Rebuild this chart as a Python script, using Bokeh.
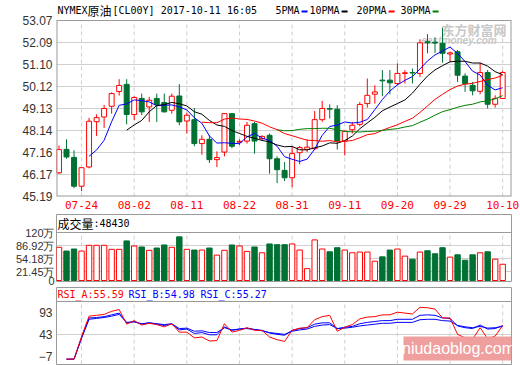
import pandas as pd
from bokeh.plotting import figure
from bokeh.layouts import column
from bokeh.models import (Range1d, FixedTicker, PrintfTickFormatter, Label, Span,
                          BoxAnnotation, ColumnDataSource)
from bokeh.embed import file_html
from bokeh.resources import INLINE
from bokeh.core.properties import value

nan = float("nan")

# ---------------- data ----------------
dates = ["07-19", "07-20", "07-21", "07-24", "07-25", "07-26", "07-27", "07-28", "07-31", "08-01",
         "08-02", "08-03", "08-04", "08-07", "08-08", "08-09", "08-10", "08-11", "08-14", "08-15",
         "08-16", "08-17", "08-18", "08-21", "08-22", "08-23", "08-24", "08-25", "08-28", "08-29",
         "08-30", "08-31", "09-01", "09-04", "09-05", "09-06", "09-07", "09-08", "09-11", "09-12",
         "09-13", "09-14", "09-15", "09-18", "09-19", "09-20", "09-21", "09-22", "09-25", "09-26",
         "09-27", "09-28", "09-29", "10-02", "10-03", "10-04", "10-05", "10-06", "10-09", "10-10"]
open_ = [46.25, 47.30, 46.94, 45.65, 46.51, 48.54, 48.75, 49.23, 49.89, 50.21,
         48.86, 49.58, 49.20, 49.58, 49.40, 49.05, 49.69, 48.57, 48.63, 47.56,
         47.75, 46.84, 47.18, 48.90, 47.62, 47.67, 48.45, 47.78, 47.93, 46.88,
         46.36, 46.03, 47.15, 47.30, 47.33, 48.63, 49.13, 49.10, 47.67, 48.18,
         48.42, 49.35, 49.77, 50.40, 50.40, 50.25, 50.70, 50.74, 50.70, 52.12,
         52.10, 52.05, 51.57, 51.67, 50.58, 50.17, 49.90, 50.74, 49.32, 49.58]
high = [47.47, 47.75, 47.26, 46.50, 48.71, 48.87, 49.29, 49.85, 50.44, 50.44,
        49.68, 49.80, 49.65, 49.80, 49.80, 49.80, 50.22, 48.95, 49.15, 47.93,
        47.93, 47.21, 48.92, 48.93, 47.75, 48.53, 48.53, 47.93, 48.01, 46.99,
        46.73, 47.44, 47.45, 47.74, 49.02, 49.47, 49.32, 49.28, 48.15, 48.53,
        49.42, 50.47, 50.17, 50.85, 50.85, 51.15, 50.85, 50.92, 52.23, 52.46,
        52.32, 52.75, 51.68, 51.75, 50.70, 50.32, 51.18, 50.85, 49.72, 50.82]
low = [46.20, 46.88, 45.56, 45.43, 46.45, 47.90, 48.26, 48.90, 49.71, 48.42,
       48.60, 48.83, 48.53, 48.53, 48.95, 48.90, 48.38, 48.01, 47.44, 47.06,
       46.69, 46.51, 46.99, 47.35, 47.50, 47.56, 47.11, 47.70, 46.21, 45.79,
       45.88, 45.61, 46.63, 47.18, 47.26, 48.53, 48.68, 47.29, 47.03, 48.01,
       48.33, 49.17, 49.35, 49.68, 49.77, 50.17, 50.25, 50.25, 50.55, 51.60,
       51.62, 51.18, 51.22, 50.32, 49.87, 49.72, 49.77, 49.13, 49.17, 49.58]
close = [47.29, 46.96, 45.65, 46.48, 48.56, 48.72, 49.13, 49.80, 50.16, 48.86,
         49.62, 48.98, 49.50, 49.31, 48.98, 49.68, 48.53, 48.83, 47.56, 47.75,
         46.84, 46.93, 48.90, 47.44, 47.66, 48.38, 47.67, 47.88, 46.88, 46.39,
         46.03, 47.11, 47.38, 47.40, 48.63, 49.13, 49.10, 47.67, 48.11, 48.38,
         49.31, 49.72, 49.87, 50.37, 50.28, 50.70, 50.73, 50.72, 52.07, 52.07,
         52.06, 51.60, 51.62, 50.62, 50.25, 49.92, 50.74, 49.32, 49.58, 50.74]
volume = [83.0, 73.6, 78.7, 73.6, 88.0, 88.0, 88.0, 77.9, 77.9, 99.0,
          86.3, 83.8, 75.4, 81.2, 88.8, 83.0, 109.1, 77.9, 76.1, 76.1,
          81.2, 63.5, 75.4, 88.8, 86.3, 72.8, 83.8, 69.3, 91.4, 89.6,
          89.6, 91.4, 76.1, 29.7, 101.5, 78.7, 71.8, 82.0, 76.1, 69.3,
          71.1, 71.1, 48.2, 59.1, 76.1, 78.7, 60.9, 53.3, 71.1, 74.4,
          66.8, 82.0, 58.4, 64.2, 50.8, 64.2, 69.3, 71.8, 53.3, 40.6]
rsi_a = [nan, -13, -13, 38, 84, 86, 88, 95, 99, 66,
         74, 64, 68, 65, 60, 67, 48, 48, 35, 37,
         28, 29, 67, 48, 52, 58, 52, 52, 37, 31,
         27, 52, 57, 58, 76, 83, 86, 50, 59, 65,
         78, 82, 83, 87, 87, 93, 91, 89, 104, 103,
         100, 80, 80, 43, 35, 32, 58, 33, 39, 63]
rsi_b = [nan, -13, -13, 36, 80, 81, 83, 87, 91, 69,
         72, 66, 69, 66, 63, 66, 53, 55, 45, 47,
         42, 42, 60, 52, 55, 57, 54, 52, 46, 43,
         41, 52, 56, 58, 66, 69, 69, 56, 59, 61,
         67, 70, 72, 74, 74, 77, 77, 77, 86, 87,
         86, 80, 79, 62, 58, 56, 64, 55, 56, 63]
rsi_c = [nan, -13, -13, 34, 77, 79, 81, 84, 88, 70,
         71, 67, 69, 67, 65, 67, 56, 57, 50, 51,
         47, 47, 58, 53, 55, 56, 54, 51, 47, 45,
         43, 50, 53, 55, 61, 64, 65, 56, 57, 59,
         62, 64, 66, 68, 68, 70, 70, 70, 76, 77,
         77, 74, 73, 63, 60, 58, 61, 57, 58, 61]

price_ticks = [45.19, 46.17, 47.16, 48.14, 49.13, 50.12, 51.10, 52.09, 53.07]
vol_ticks = [0, 21.45, 54.18, 86.92, 120]
vol_tick_labels = ["0", "21.45万", "54.18万", "86.92万", "120万"]
rsi_ticks = [-7, 43, 93]
ma_periods = [5, 10, 20, 30]
ma_names = ["5PMA", "10PMA", "20PMA", "30PMA"]
ma_colors = ["#0000ff", "#000000", "#ff0000", "#008000"]
title_parts = ["NYMEX", "原油", "[CL00Y] 2017-10-11 16:05"]
vol_title = ["成交量", ":48430"]
rsi_names = ["RSI_A:55.59", "RSI_B:54.98", "RSI_C:55.27"]
rsi_colors = ["#ff0000", "#0000ff", "#0000ff"]
tick_step = 7
tick_first = 3

# ---------------- styling / layout ----------------
RED = "#ff0000"
GREEN = "#007033"
BORDER = "#9a9a9a"
GRID = "#cfcfcf"
MONO = "DejaVu Sans Mono"
CJK = "Noto Sans CJK SC"
SANS = "Liberation Sans"

PAGE_W = 520
FL, FR = 56, 511            # page x of frame edges
FW = FR - FL
XR = (-0.332, 60.172)
BL, BR = FL, PAGE_W - FR

def fx(px):
    return XR[0] + (px - FL) / FW * (XR[1] - XR[0])

n = len(close)
idx = list(range(n))
ticks_idx = list(range(tick_first, n, tick_step))
nt = len(ticks_idx)
up = [c >= o for o, c in zip(open_, close)]
col = [RED if u else GREEN for u in up]
fill = ["white" if u else GREEN for u in up]

def style_y(ax, size="12px", standoff=4):
    ax.axis_line_color = None
    ax.major_tick_line_color = None
    ax.minor_tick_line_color = None
    ax.major_tick_out = 0
    ax.major_tick_in = 0
    ax.minor_tick_out = 0
    ax.minor_tick_in = 0
    ax.major_label_text_font = SANS
    ax.major_label_text_font_size = size
    ax.major_label_text_color = "#333333"
    ax.major_label_standoff = standoff

def base_fig(frame_h, top, bottom, yr, xaxis):
    p = figure(frame_width=FW, frame_height=frame_h,
               min_border_left=BL, min_border_right=BR,
               min_border_top=top, min_border_bottom=bottom,
               x_range=Range1d(*XR), y_range=Range1d(*yr),
               toolbar_location=None, output_backend="svg",
               x_axis_location="below" if xaxis else None)
    p.outline_line_color = BORDER
    p.background_fill_color = "white"
    p.border_fill_color = "white"
    return p

# ---------------- price panel (frame also holds the title row) ----------------
A_TOP, A_BOT = 20, 196       # page y of the price box
PR_LO, PR_HI = price_ticks[0], price_ticks[-1]
k_p = (PR_HI - PR_LO) / (A_BOT - A_TOP)
PR = (PR_LO, PR_HI + A_TOP * k_p)      # frame starts at page y 0
def fyA(py):
    return PR_HI - (py - A_TOP) * k_p

pa = base_fig(A_BOT, 0, 214 - A_BOT, PR, True)
pa.outline_line_color = None
style_y(pa.yaxis[0])
pa.yaxis.ticker = FixedTicker(ticks=price_ticks)
pa.yaxis.formatter = PrintfTickFormatter(format="%.2f")
pa.ygrid.ticker = FixedTicker(ticks=price_ticks[1:-1])
pa.ygrid.grid_line_color = GRID
pa.xgrid.grid_line_color = None
xa = pa.xaxis[0]
xa.ticker = FixedTicker(ticks=ticks_idx)
xa.major_label_overrides = {i: dates[i] for i in ticks_idx}
xa.axis_line_color = None
xa.major_tick_line_color = None
xa.minor_tick_line_color = None
xa.major_tick_out = 0
xa.major_tick_in = 0
xa.minor_tick_out = 0
xa.minor_tick_in = 0
xa.major_label_text_color = RED
xa.major_label_text_font = MONO
xa.major_label_text_font_size = "11px"
xa.major_label_standoff = 4

# vertical dashed grid inside the price box
pa.segment(x0=ticks_idx, y0=[PR_LO] * nt, x1=ticks_idx, y1=[PR_HI] * nt,
           line_color=GRID, line_dash="4 3", line_width=1)

# watermark (under the candles)
pa.text(x=[fx(441)], y=[fyA(28.5)], text=["东方财富网"], text_font=value(CJK),
        text_font_size="13px", text_font_style="bold", text_color="#c8c8c8",
        text_baseline="middle", text_align="left")
pa.text(x=[fx(421)], y=[fyA(39.5)], text=["eastmoney.com"], text_font=value(SANS),
        text_font_size="10px", text_font_style="bold italic", text_color="#c8c8c8",
        text_baseline="middle", text_align="left")

src = ColumnDataSource(dict(x=idx, high=high, low=low,
                            top=[max(o, c) for o, c in zip(open_, close)],
                            bottom=[min(o, c) for o, c in zip(open_, close)],
                            col=col, fill=fill, vol=volume))
pa.segment(x0="x", y0="high", x1="x", y1="low", line_color="col", line_width=1, source=src)
pa.vbar(x="x", width=0.66, top="top", bottom="bottom", fill_color="fill",
        line_color="col", line_width=1, source=src)

cs = pd.Series(close)
for per, c in zip(ma_periods, ma_colors):
    ma = cs.rolling(per).mean().tolist()
    pa.line(idx, ma, line_color=c, line_width=1)

# price box border (left/right/bottom lie on the frame edge, so width 2 leaves 1px inside)
pa.segment(x0=[XR[0], XR[1], XR[0]], y0=[PR_LO, PR_LO, PR_LO],
           x1=[XR[0], XR[1], XR[1]], y1=[PR_HI, PR_HI, PR_LO],
           line_color=BORDER, line_width=2)
pa.segment(x0=[XR[0]], y0=[PR_HI], x1=[XR[1]], y1=[PR_HI], line_color=BORDER, line_width=1)

# title row + MA legend
ty = fyA(10)
title_x = [57, 87, 112]
title_fonts = [(MONO, "10px"), (CJK, "12px"), (MONO, "10px")]
for t, px, (f, s) in zip(title_parts, title_x, title_fonts):
    pa.text(x=[fx(px)], y=[ty], text=[t], text_font=value(f), text_font_size=s,
            text_color="#000000", text_baseline="middle", text_align="left")
leg_x = [275, 309, 356, 400]
for nm, c, px in zip(ma_names, ma_colors, leg_x):
    pa.text(x=[fx(px)], y=[ty], text=[nm], text_font=value(MONO), text_font_size="10px",
            text_color="#000000", text_baseline="middle", text_align="left")
    ex = px + 6.02 * len(nm) + 2
    pa.segment(x0=[fx(ex)], y0=[fyA(11)], x1=[fx(ex + 6)], y1=[fyA(11)], line_color=c, line_width=2)

# ---------------- volume panel ----------------
B_TOP, B_BOT = 214, 281
k_v = 120 / (280 - 232)
VR = (0 - (B_BOT - 280) * k_v, 120 + (232 - B_TOP) * k_v)
def fyB(py):
    return VR[1] - (py - B_TOP) / (B_BOT - B_TOP) * (VR[1] - VR[0])

pb = base_fig(B_BOT - B_TOP, 0, 287 - B_BOT, VR, False)
style_y(pb.yaxis[0], size="11px", standoff=2)
pb.yaxis.ticker = FixedTicker(ticks=vol_ticks)
pb.yaxis.major_label_overrides = {t: l for t, l in zip(vol_ticks, vol_tick_labels)}
pb.ygrid.ticker = FixedTicker(ticks=vol_ticks[1:-1])
pb.ygrid.grid_line_color = GRID
pb.xgrid.grid_line_color = None
pb.segment(x0=ticks_idx, y0=[VR[0]] * nt, x1=ticks_idx, y1=[vol_ticks[-1]] * nt,
           line_color=GRID, line_dash="4 3", line_width=1)
pb.vbar(x="x", width=0.72, top="vol", bottom=0, fill_color="fill", line_color="col",
        line_width=1, source=src)
pb.add_layout(Span(location=vol_ticks[-1], dimension="width", line_color=BORDER, line_width=1))
pb.add_layout(Label(x=fx(57), y=fyB(223), text=vol_title[0], text_font=CJK, text_font_size="12px",
                    text_baseline="middle", text_align="left", text_color="#000000"))
pb.add_layout(Label(x=fx(93), y=fyB(223), text=vol_title[1], text_font=MONO, text_font_size="10px",
                    text_baseline="middle", text_align="left", text_color="#000000"))

# ---------------- RSI panel ----------------
C_TOP, C_BOT = 287, 364
k_r = 100 / (356 - 311.7)
RR = (-7 - (C_BOT - 356) * k_r, 93 + (311.7 - C_TOP) * k_r)
C_SEP = 301
def fyC(py):
    return RR[1] - (py - C_TOP) / (C_BOT - C_TOP) * (RR[1] - RR[0])

pc = base_fig(C_BOT - C_TOP, 0, 365 - C_BOT, RR, False)
style_y(pc.yaxis[0])
pc.yaxis.ticker = FixedTicker(ticks=rsi_ticks)
pc.ygrid.ticker = FixedTicker(ticks=[43])
pc.ygrid.grid_line_color = GRID
pc.xgrid.grid_line_color = None
sep_val = fyC(C_SEP)
pc.segment(x0=ticks_idx, y0=[RR[0]] * nt, x1=ticks_idx, y1=[sep_val] * nt,
           line_color=GRID, line_dash="4 3", line_width=1)
pc.line(idx, rsi_c, line_color="#0000ff", line_width=1)
pc.line(idx, rsi_b, line_color="#0000ff", line_width=1)
pc.line(idx, rsi_a, line_color="#ff0000", line_width=1)
pc.add_layout(Span(location=sep_val, dimension="width", line_color=BORDER, line_width=1))
for t, c, px in zip(rsi_names, rsi_colors, [57, 128, 200]):
    pc.add_layout(Label(x=fx(px), y=fyC(294), text=t, text_font=MONO, text_font_size="10px",
                        text_baseline="middle", text_align="left", text_color=c))
# watermark box
pc.add_layout(BoxAnnotation(left=fx(403), top=fyC(336), bottom=fyC(360),
                            fill_color="#ef9a9a", fill_alpha=0.95, line_color=None))
pc.add_layout(Label(x=fx(458), y=fyC(348), text="niudaoblog.com", text_font=SANS,
                    text_font_size="16px", text_color="white", text_baseline="middle",
                    text_align="center"))

layout = column(pa, pb, pc, spacing=0)
open("out.html", "w").write(file_html(layout, INLINE))
